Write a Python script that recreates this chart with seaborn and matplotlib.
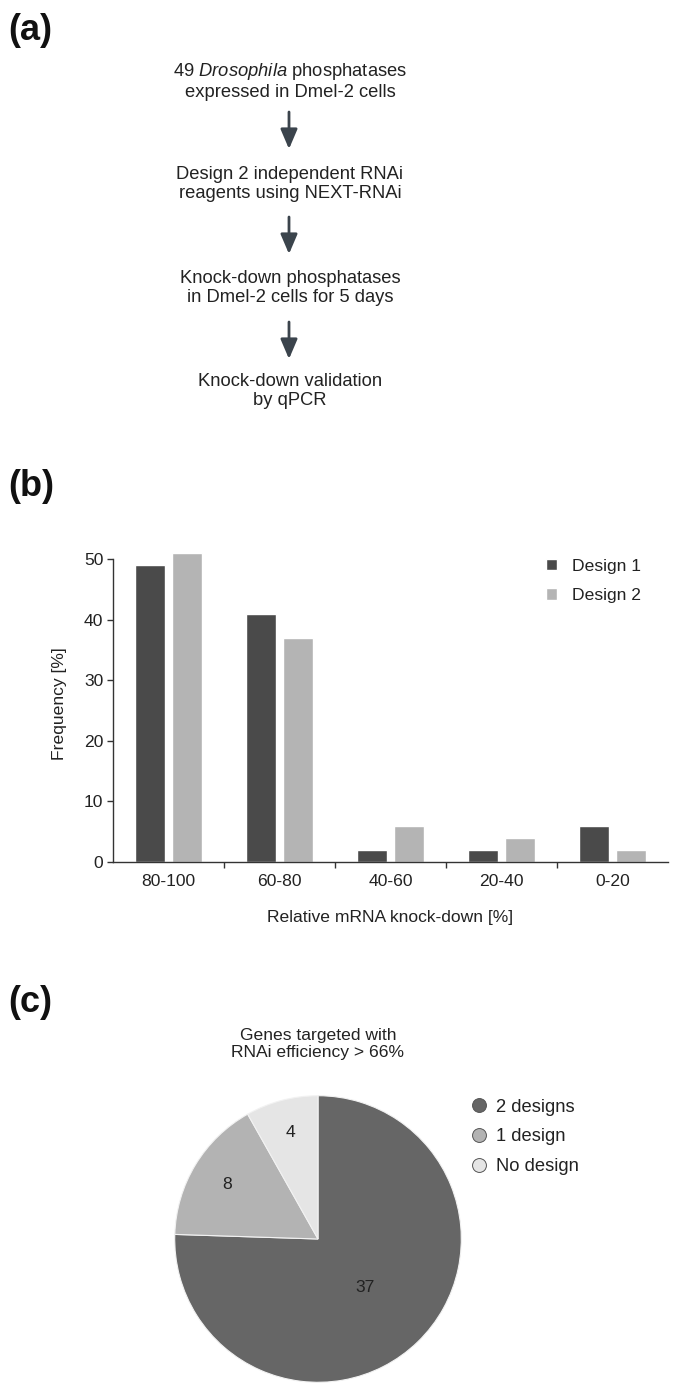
#!/usr/bin/env python3
import pandas as pd
import numpy as np
import matplotlib
matplotlib.use("Agg")
import matplotlib.pyplot as plt
from matplotlib.lines import Line2D
import seaborn as sns

# data
ranges = ["80-100", "60-80", "40-60", "20-40", "0-20"]
design1 = [49, 41, 2, 2, 6]
design2 = [51, 37, 6, 4, 2]
designs = ["Design 1", "Design 2"]

pie_labels = ["2 designs", "1 design", "No design"]
pie_values = [37, 8, 4]

steps = [
    "49 $\\it{Drosophila}$ phosphatases\nexpressed in Dmel-2 cells",
    "Design 2 independent RNAi\nreagents using NEXT-RNAi",
    "Knock-down phosphatases\nin Dmel-2 cells for 5 days",
    "Knock-down validation\nby qPCR",
]

W, H = 685, 1397
TXT = "#222222"
FS = 12.6


def main():
    sns.set_theme(style="white")
    plt.rcParams["font.family"] = ["Liberation Sans", "DejaVu Sans"]
    plt.rcParams["mathtext.fontset"] = "custom"
    plt.rcParams["mathtext.it"] = "Liberation Sans:italic"
    plt.rcParams["mathtext.rm"] = "Liberation Sans"

    fig = plt.figure(figsize=(W / 100, H / 100), dpi=100)

    # overlay in pixel coords for the flow chart and panel letters
    ov = fig.add_axes([0, 0, 1, 1])
    ov.set_xlim(0, W)
    ov.set_ylim(H, 0)
    ov.axis("off")

    for lab, y in zip(["(a)", "(b)", "(c)"], [30, 486, 1002]):
        ov.text(8, y, lab, fontsize=26, fontweight="bold", color="#111111",
                ha="left", va="center")

    step_y = [81, 184, 288, 391]
    for s, y in zip(steps, step_y):
        ov.text(290, y, s, fontsize=13.2, color=TXT, ha="center", va="center",
                linespacing=1.2)
    for y0, y1 in [(112, 149), (217, 254), (322, 359)]:
        ov.annotate("", xy=(289, y1), xytext=(289, y0),
                    arrowprops=dict(arrowstyle="-|>,head_width=0.32,head_length=0.75",
                                    color="#3b444c", lw=2.0, shrinkA=0, shrinkB=0,
                                    mutation_scale=16))

    # (b) bar chart
    df = pd.DataFrame({
        "range": ranges * 2,
        "freq": design1 + design2,
        "design": [designs[0]] * 5 + [designs[1]] * 5,
    })
    ax = fig.add_axes([113 / W, 1 - 862 / H, 555 / W, 316 / H])
    sns.barplot(data=df, x="range", y="freq", hue="design",
                palette=["#4a4a4a", "#b4b4b4"], width=0.66, gap=0.17,
                saturation=1, ax=ax)
    ax.set_xlim(-0.5, 4.5)
    ax.set_ylim(0, 52.2)
    ax.set_yticks([0, 10, 20, 30, 40, 50])
    for sp in ["top", "right"]:
        ax.spines[sp].set_visible(False)
    ax.spines["left"].set_bounds(0, 50)
    for sp in ["left", "bottom"]:
        ax.spines[sp].set_color("#333333")
        ax.spines[sp].set_linewidth(1.0)
    ax.tick_params(axis="y", length=4, width=1, color="#333333", labelsize=FS,
                   labelcolor=TXT, pad=3, left=True)
    ax.tick_params(axis="x", which="major", length=0, labelsize=FS,
                   labelcolor=TXT, pad=9)
    ax.set_xticks([0.5, 1.5, 2.5, 3.5], minor=True)
    ax.tick_params(axis="x", which="minor", length=4, width=1, color="#333333",
                   bottom=True)
    ax.set_xlabel("Relative mRNA knock-down [%]", fontsize=FS, color=TXT,
                  labelpad=15)
    ax.set_ylabel("Frequency [%]", fontsize=FS, color=TXT, labelpad=12)
    ax.legend(loc="upper left", bbox_to_anchor=(417 / 555, 1.01), frameon=False,
              fontsize=FS, handlelength=0.65, handleheight=0.65,
              handletextpad=0.85, labelspacing=0.85, labelcolor=TXT)

    # (c) pie chart
    pax = fig.add_axes([174 / W, 1 - 1383 / H, 288 / W, 288 / H])
    pie_colors = ["#666666", "#b3b3b3", "#e5e5e5"]
    wedges, _ = pax.pie(pie_values, colors=pie_colors, startangle=90,
                        counterclock=False,
                        wedgeprops=dict(edgecolor="#f2f2f2", linewidth=0.8))
    pax.set_xlim(-1.005, 1.005)
    pax.set_ylim(-1.005, 1.005)
    pax.set_aspect("equal")
    dists = [0.47, 0.74, 0.77]
    for w, v, d in zip(wedges, pie_values, dists):
        ang = np.deg2rad((w.theta1 + w.theta2) / 2)
        pax.text(d * np.cos(ang), d * np.sin(ang), str(v), ha="center",
                 va="center", fontsize=FS, color=TXT)

    ov.text(318, 1044, "Genes targeted with\nRNAi efficiency > 66%",
            fontsize=FS, color=TXT, ha="center", va="center", linespacing=1.15)

    handles = [Line2D([], [], marker="o", ls="none", markersize=10,
                      markerfacecolor=c, markeredgecolor="#555555",
                      markeredgewidth=0.7) for c in pie_colors]
    fig.legend(handles, pie_labels, loc="upper left",
               bbox_to_anchor=(453 / W, 1 - 1082 / H), frameon=False,
               fontsize=13.2, handlelength=1.0, handletextpad=0.45,
               labelspacing=0.7, labelcolor=TXT)

    fig.savefig("out.png", dpi=100)


if __name__ == "__main__":
    main()
